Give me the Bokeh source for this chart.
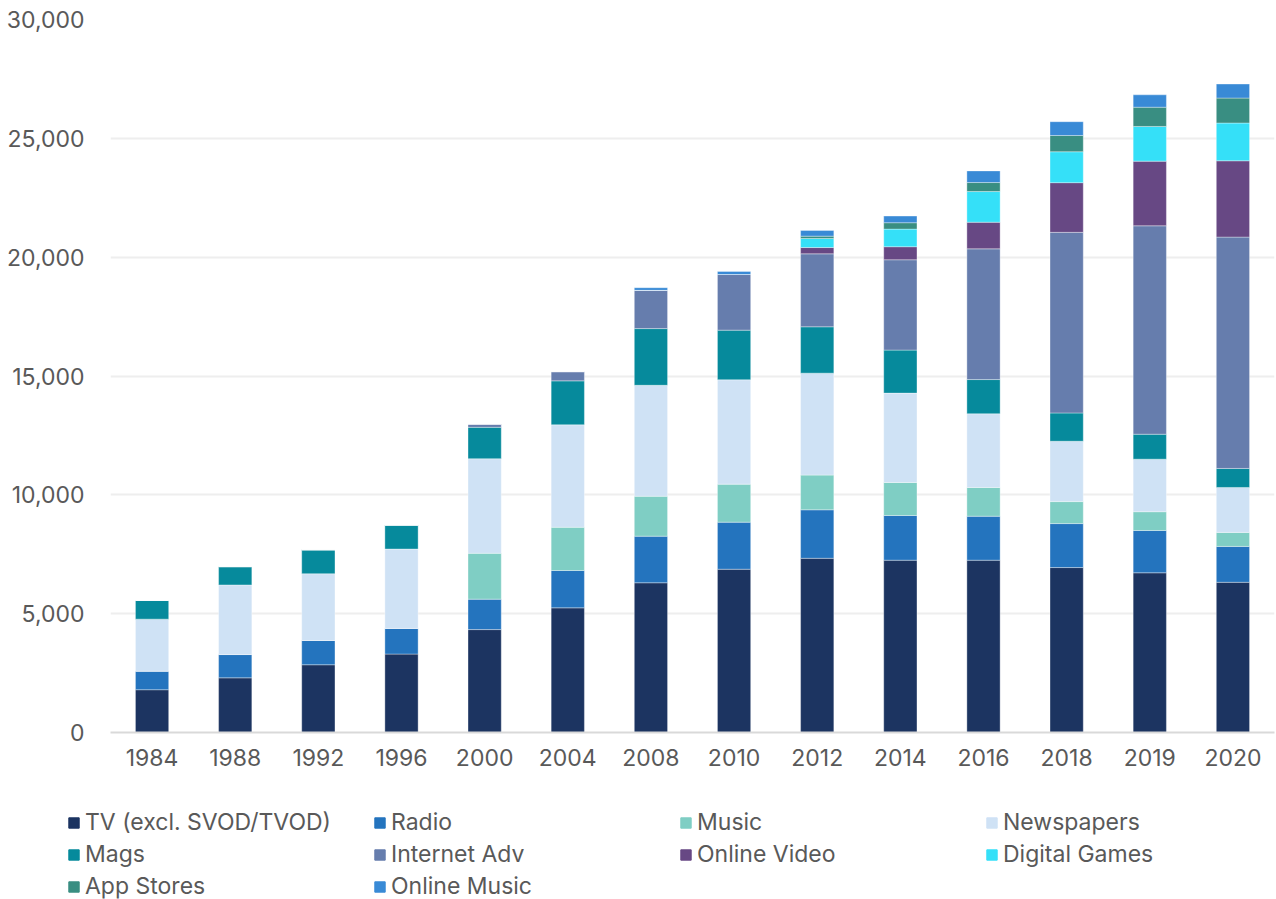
from bokeh.plotting import figure
from bokeh.layouts import column
from bokeh.models import (ColumnDataSource, FactorRange, Range1d, Legend, LegendItem,
                          NumeralTickFormatter, SingleIntervalTicker)
from bokeh.embed import file_html
from bokeh.resources import INLINE

years = ["1984", "1988", "1992", "1996", "2000", "2004", "2008", "2010",
         "2012", "2014", "2016", "2018", "2019", "2020"]

tv          = [1800, 2300, 2850, 3300, 4330, 5245, 6300, 6870, 7330, 7250, 7250, 6940, 6720, 6320]
radio       = [780, 980, 1020, 1080, 1280, 1570, 1960, 1980, 2040, 1880, 1850, 1850, 1780, 1510]
music       = [0, 0, 0, 0, 1930, 1820, 1680, 1600, 1460, 1390, 1210, 925, 790, 590]
newspapers  = [2190, 2930, 2810, 3340, 3980, 4310, 4670, 4390, 4290, 3760, 3100, 2540, 2210, 1890]
mags        = [790, 770, 1010, 1010, 1320, 1850, 2385, 2090, 1950, 1810, 1440, 1190, 1050, 800]
internet    = [0, 0, 0, 0, 140, 390, 1610, 2340, 3070, 3800, 5500, 7600, 8770, 9735]
online_vid  = [0, 0, 0, 0, 0, 0, 0, 0, 265, 550, 1120, 2090, 2720, 3210]
games       = [0, 0, 0, 0, 0, 0, 0, 0, 380, 740, 1290, 1300, 1460, 1590]
app_stores  = [0, 0, 0, 0, 0, 0, 0, 0, 100, 270, 380, 685, 810, 1050]
online_mus  = [0, 0, 0, 0, 0, 0, 110, 130, 240, 280, 490, 580, 520, 590]

series_names = ["TV (excl. SVOD/TVOD)", "Radio", "Music", "Newspapers", "Mags",
                "Internet Adv", "Online Video", "Digital Games", "App Stores", "Online Music"]
series_data = [tv, radio, music, newspapers, mags, internet, online_vid, games, app_stores, online_mus]
colors = ["#1c3461", "#2474be", "#7fcec4", "#cfe2f5", "#068a9c",
          "#667dad", "#674884", "#35e0f8", "#398e82", "#398ad6"]

keys = ["s%d" % i for i in range(len(series_names))]
data = {"year": years}
for k, d in zip(keys, series_data):
    data[k] = d
source = ColumnDataSource(data)

FONT = "Inter"
TXT = "#595959"
FS = "23px"

p = figure(x_range=FactorRange(*years, range_padding=0), y_range=Range1d(0, 30000),
           width=1276, height=780, output_backend="svg", toolbar_location=None,
           min_border_left=110, min_border_top=19, min_border_right=2, min_border_bottom=48)
p.frame_align = False

renderers = p.vbar_stack(keys, x="year", width=0.4, color=colors, source=source,
                         line_color="white", line_width=1, line_alpha=0.35)

p.outline_line_color = None
p.background_fill_color = "white"
p.xgrid.visible = False
p.ygrid.grid_line_color = "#eeeeee"
p.ygrid.grid_line_width = 2

p.yaxis.ticker = SingleIntervalTicker(interval=5000)
p.yaxis.formatter = NumeralTickFormatter(format="0,0")
p.yaxis.axis_line_color = None
p.yaxis.major_tick_line_color = None
p.yaxis.minor_tick_line_color = None
p.yaxis.major_tick_out = 0
p.yaxis.major_tick_in = 0
p.yaxis.major_label_standoff = 22

p.xaxis.axis_line_color = "#d9d9d9"
p.xaxis.axis_line_width = 2
p.xaxis.major_tick_line_color = None
p.xaxis.minor_tick_line_color = None
p.xaxis.major_tick_out = 0
p.xaxis.major_tick_in = 0
p.xaxis.major_label_standoff = 16

for ax in (p.xaxis, p.yaxis):
    ax.major_label_text_font = FONT
    ax.major_label_text_font_size = FS
    ax.major_label_text_color = TXT

# legend figure below the chart (its own frame, not aligned with the chart's)
lp = figure(width=1276, height=119, output_backend="svg", toolbar_location=None,
            x_range=Range1d(0, 1), y_range=Range1d(0, 1),
            x_axis_location=None, y_axis_location=None,
            min_border_left=67, min_border_top=28, min_border_right=0, min_border_bottom=0)
lp.frame_align = False
lp.outline_line_color = None
lp.xgrid.visible = False
lp.ygrid.visible = False

# zero-size swatch renderers that only carry each series' colour for the legend
swatch = ColumnDataSource(dict(x=[-5], top=[-5], bottom=[-5]))
items = []
for n, c in zip(series_names, colors):
    r = lp.vbar(x="x", top="top", bottom="bottom", width=0, color=c, source=swatch)
    items.append(LegendItem(label=n, renderers=[r]))

legend = Legend(items=items, orientation="horizontal", ncols=4, location="top_left",
                label_text_font=FONT, label_text_font_size=FS, label_text_color=TXT,
                glyph_width=13, glyph_height=13, label_standoff=5,
                label_width=284, label_height=24, spacing=4,
                padding=0, margin=0, border_line_color=None, background_fill_alpha=0)
lp.add_layout(legend)

layout = column(p, lp, spacing=0)
open("out.html", "w").write(file_html(layout, INLINE))
